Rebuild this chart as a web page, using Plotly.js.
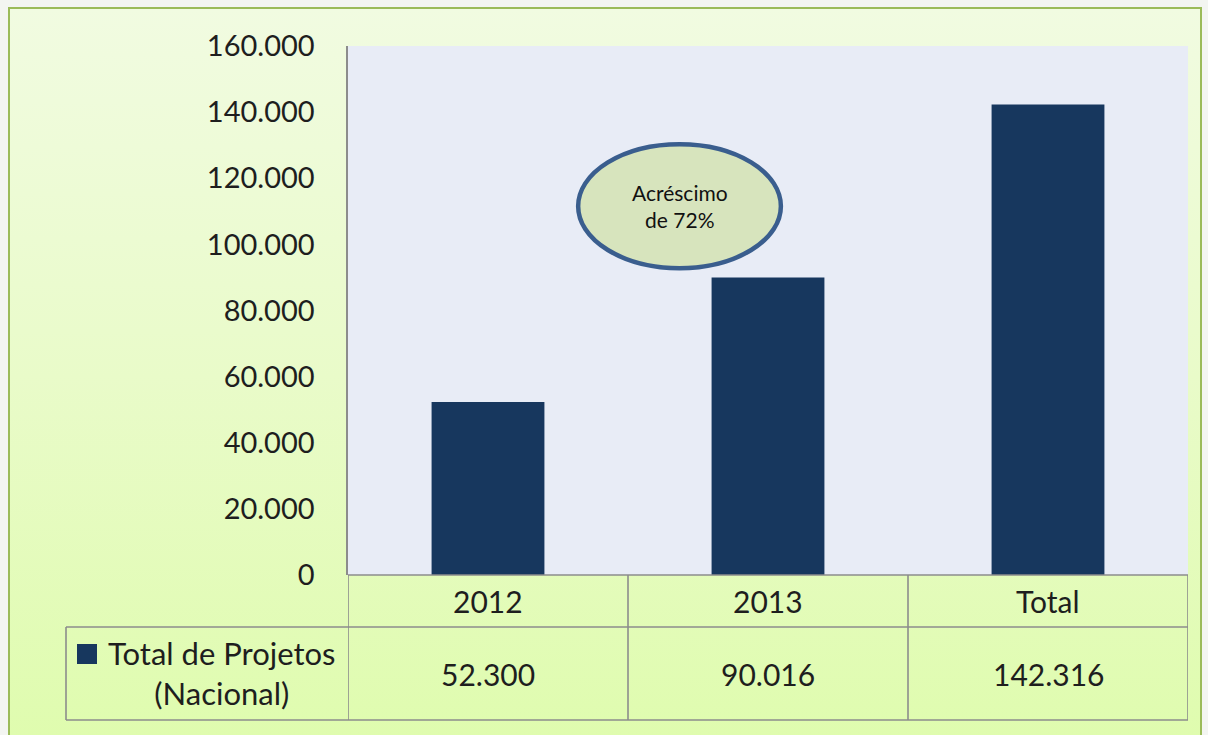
<!DOCTYPE html>
<html>
<head>
<meta charset="utf-8">
<script src="https://cdn.plot.ly/plotly-3.0.1.min.js"></script>
<style>
  html, body { margin:0; padding:0; width:1208px; height:735px; overflow:hidden; background:#f3f5f1; }
  #frame { position:absolute; left:8px; top:7px; width:1194px; height:740px;
           border:2px solid #9bbb59; box-sizing:border-box;
           background:linear-gradient(to bottom, #f1fbe1 0%, #e9fbc9 50%, #dffcae 100%); }
  #chart { position:absolute; left:0; top:0; width:1208px; height:735px; }
</style>
</head>
<body>
<div id="frame"></div>
<div id="chart"></div>
<script>
const categories = ['2012', '2013', 'Total'];
const values = [52300, 90016, 142316];
const valueLabels = ['52.300', '90.016', '142.316'];
const seriesName = 'Total de Projetos<br>(Nacional)';
const yTicks = [0, 20000, 40000, 60000, 80000, 100000, 120000, 140000, 160000];
const calloutText = 'Acréscimo<br>de 72%';

const W = 1208, H = 735;
const L = 348, R = 20, T = 46, B = 160;
const plotH = H - T - B, plotW = W - L - R;
const py = px => (H - B - px) / plotH;      // pixel y -> paper y
const pxX = px => (px - L) / plotW;          // pixel x -> paper x

const font = 'Lato, "Open Sans", sans-serif';
const txt = '#1e1e1e';
const gridC = '#8c8c8c';

const shapes = [];
const line = (x0, y0, x1, y1, xref) => shapes.push({type:'line', xref:xref||'x', yref:'paper',
  x0, y0, x1, y1, line:{color:gridC, width:1.6}, layer:'above'});
// table horizontal lines
line(-0.5, py(575), categories.length - 0.5, py(575));
line(pxX(66), py(627), 1, py(627), 'paper');
line(pxX(66), py(720), 1, py(720), 'paper');
// table vertical lines at category boundaries
for (let i = 0; i <= categories.length; i++) line(i - 0.5, py(575), i - 0.5, py(720));
line(pxX(66), py(627), pxX(66), py(720), 'paper');
// legend key square
shapes.push({type:'rect', xref:'paper', yref:'paper', x0:pxX(77), x1:pxX(97), y0:py(664), y1:py(644),
  fillcolor:'#17375e', line:{width:0}});
// callout ellipse
shapes.push({type:'circle', xref:'x', yref:'y', x0:0.322, x1:1.046, y0:92800, y1:130300,
  fillcolor:'#d7e4bd', line:{color:'#3a5e8e', width:4.5}, layer:'above'});

const annotations = [];
categories.forEach((c, i) => {
  annotations.push({x:i, xref:'x', y:py(601), yref:'paper', text:c, showarrow:false,
    xanchor:'center', yanchor:'middle', font:{family:font, size:30, color:txt}});
  annotations.push({x:i, xref:'x', y:py(674), yref:'paper', text:valueLabels[i], showarrow:false,
    xanchor:'center', yanchor:'middle', font:{family:font, size:30, color:txt}});
});
annotations.push({x:pxX(222), xref:'paper', y:py(673), yref:'paper', text:seriesName, showarrow:false,
  xanchor:'center', yanchor:'middle', font:{family:font, size:31, color:txt}, align:'center'});
annotations.push({x:0.684, xref:'x', y:111500, yref:'y', text:calloutText, showarrow:false,
  xanchor:'center', yanchor:'middle', font:{family:font, size:21, color:'#111'}, align:'center'});

const data = [{
  type:'bar', x:categories, y:values, name:'Total de Projetos (Nacional)',
  marker:{color:'#17375e'}, width:0.403, hoverinfo:'x+y'
}];

const layout = {
  width:W, height:H,
  margin:{l:L, r:R, t:T, b:B},
  paper_bgcolor:'rgba(0,0,0,0)', plot_bgcolor:'#e8ecf6',
  separators:',.',
  showlegend:false,
  font:{family:font, color:txt},
  xaxis:{type:'category', categoryarray:categories, range:[-0.5, 2.5], showticklabels:false,
    showgrid:false, zeroline:false, showline:false, ticks:''},
  yaxis:{range:[0, 160000], tickvals:yTicks, tickformat:',d', showgrid:false, zeroline:false,
    showline:true, linecolor:gridC, linewidth:1.6, ticks:'', ticklabelstandoff:26,
    tickfont:{family:font, size:29, color:txt}},
  shapes, annotations
};

Plotly.newPlot('chart', data, layout, {displayModeBar:false, staticPlot:true});
</script>
</body>
</html>
